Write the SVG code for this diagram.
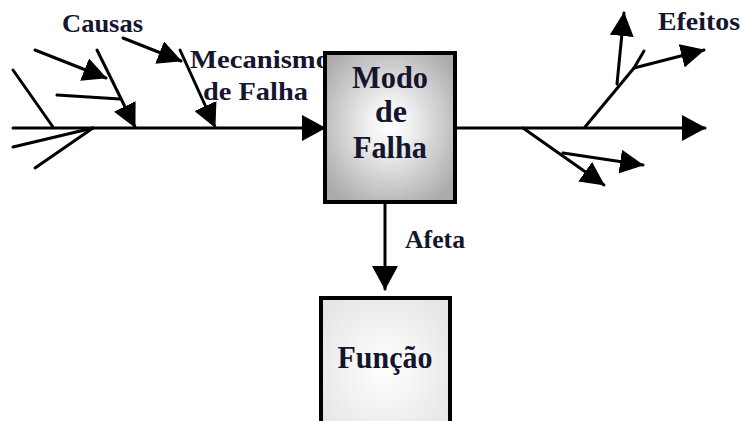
<svg xmlns="http://www.w3.org/2000/svg" width="743" height="421" viewBox="0 0 743 421">
<style>
.ln{stroke:#000;stroke-width:3;fill:none;stroke-linecap:round}
.ar{marker-end:url(#ah)}
.arS{marker-end:url(#ahs)}
.t{font-family:"Liberation Serif","Times New Roman",serif;font-weight:bold;fill:#15152e}
.lbl{font-size:26px}
.big{font-size:31px}
.box{stroke:#000;stroke-width:4}
</style>
<defs>
<marker id="ah" markerUnits="userSpaceOnUse" viewBox="0 0 24 26" refX="23" refY="13" markerWidth="24" markerHeight="26" orient="auto">
<path d="M0,0 L24,13 L0,26 z" fill="#000"/>
</marker>
<marker id="ahs" markerUnits="userSpaceOnUse" viewBox="0 0 24 24" refX="23" refY="12" markerWidth="24" markerHeight="24" orient="auto">
<path d="M0,0 L24,12 L0,24 z" fill="#000"/>
</marker>
<radialGradient id="gModo" cx="50%" cy="48%" r="62%">
<stop offset="0" stop-color="#ffffff"/>
<stop offset="0.25" stop-color="#f2f2f2"/>
<stop offset="1" stop-color="#ababab"/>
</radialGradient>
<radialGradient id="gFunc" cx="50%" cy="50%" r="60%">
<stop offset="0" stop-color="#ffffff"/>
<stop offset="1" stop-color="#e6e6e6"/>
</radialGradient>
</defs>

<g id="labels">
<text class="t lbl" x="62" y="32" textLength="81" lengthAdjust="spacingAndGlyphs">Causas</text>
<text class="t lbl" x="190" y="68" textLength="140" lengthAdjust="spacingAndGlyphs">Mecanismo</text>
<text class="t lbl" x="203" y="100" textLength="105" lengthAdjust="spacingAndGlyphs">de Falha</text>
<text class="t lbl" x="658" y="30" textLength="82" lengthAdjust="spacingAndGlyphs">Efeitos</text>
<text class="t lbl" x="405" y="248" textLength="60" lengthAdjust="spacingAndGlyphs">Afeta</text>
</g>

<g id="connectors">
<line class="ln ar" x1="13" y1="128" x2="325" y2="128"/>
<line class="ln" x1="13" y1="70" x2="53" y2="127"/>
<line class="ln" x1="13" y1="147" x2="93" y2="128"/>
<line class="ln" x1="35" y1="168" x2="93" y2="128"/>
<line class="ln arS" x1="97" y1="50" x2="135" y2="127"/>
<line class="ln" x1="57" y1="95" x2="120" y2="99"/>
<line class="ln arS" x1="35" y1="50" x2="106" y2="78"/>
<line class="ln arS" x1="180" y1="50" x2="215" y2="127"/>
<line class="ln arS" x1="123" y1="38" x2="181" y2="61"/>
<line class="ln ar" x1="455" y1="128" x2="705" y2="128"/>
<line class="ln" x1="585" y1="127" x2="634" y2="68"/>
<line class="ln arS" x1="617" y1="84" x2="624" y2="13"/>
<line class="ln" x1="634" y1="68" x2="644" y2="51"/>
<line class="ln arS" x1="634" y1="68" x2="704" y2="50"/>
<line class="ln arS" x1="523" y1="128" x2="604" y2="185"/>
<line class="ln arS" x1="563" y1="153" x2="643" y2="165"/>
<line class="ln ar" x1="385" y1="202" x2="385" y2="289"/>
</g>

<g id="modo">
<rect class="box" x="325" y="53" width="130" height="149" fill="url(#gModo)"/>
<text class="t big" x="390" y="88" text-anchor="middle" textLength="76" lengthAdjust="spacingAndGlyphs">Modo</text>
<text class="t big" x="391" y="122" text-anchor="middle" textLength="32" lengthAdjust="spacingAndGlyphs">de</text>
<text class="t big" x="390" y="158" text-anchor="middle" textLength="74" lengthAdjust="spacingAndGlyphs">Falha</text>
</g>

<g id="funcao">
<rect class="box" x="321" y="298" width="129" height="140" fill="url(#gFunc)"/>
<text class="t big" x="385" y="368" text-anchor="middle" textLength="95" lengthAdjust="spacingAndGlyphs">Função</text>
</g>
</svg>
